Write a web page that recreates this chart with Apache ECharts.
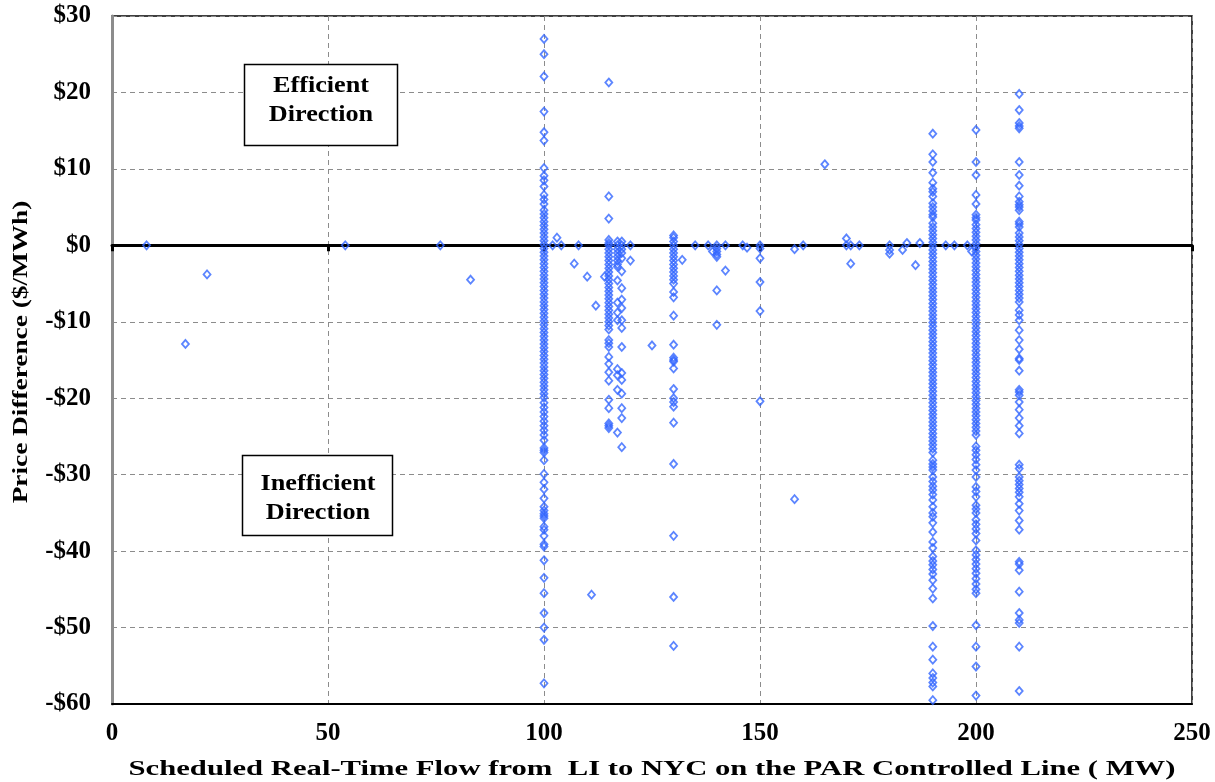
<!DOCTYPE html>
<html>
<head>
<meta charset="utf-8">
<script src="https://cdn.jsdelivr.net/npm/echarts@6/dist/echarts.min.js"></script>
<style>
    html, body { margin: 0; padding: 0; background: #fff; }
    #chart { width: 1215px; height: 782px; }
</style>
</head>
<body>
<div id="chart"></div>
<script>
// 坐标轴刻度
const xTicks = [0, 50, 100, 150, 200, 250];
const yTicks = [-60, -50, -40, -30, -20, -10, 0, 10, 20, 30];

// 每一列的潮流 (MW) 和对应的价差 ($/MWh)
const price100 = [27.0, 25.0, 22.1, 17.5, 14.8, 13.7, 10.1, 9.1, 8.5, 7.7, 6.6, 6.0, 5.4,
    4.6, 4.1, 3.6, 3.1, 2.6, 2.1, 1.6, 1.1, 0.6, 0.1, -0.4, -0.9, -1.4, -1.9, -2.4, -2.9, -3.4, -3.9,
    -4.4, -4.9, -5.4, -5.9, -6.4, -6.9, -7.4, -7.9, -8.4, -8.9, -9.4, -9.9, -10.4, -10.9, -11.4, -11.9,
    -12.4, -12.9, -13.4, -13.9, -14.4, -14.9, -15.4, -15.9, -16.4, -16.9, -17.4, -17.9, -18.4, -18.9,
    -19.4, -19.9, -20.6, -21.2, -21.8, -22.4, -23.0, -23.6, -24.2, -24.8, -25.5, -26.5, -26.8, -27.1,
    -28.1, -29.9, -31.0, -31.9, -33.1, -34.2, -34.7, -35.1, -35.4, -35.7, -36.8, -37.2, -38.0, -39.1,
    -39.4, -41.2, -43.5, -45.5, -48.1, -50.0, -51.6, -57.3];
const price115 = [21.3, 6.4, 3.5, 0.7, 0.3, 0, -0.5, -1, -1.5, -2, -2.5, -3, -3.5, -4, -4.5, -5, -5.5,
    -6, -6.5, -7, -7.5, -8, -8.5, -9, -9.5, -10, -10.5, -11, -12.4, -12.8, -13.3, -14.6, -15.5, -16.6,
    -17.7, -20.2, -21.3, -23.3, -23.6, -23.9];
const price117 = [0.5, 0, -0.5, -1, -1.5, -2, -2.5, -2.8, -4.6, -7.5, -8.8, -9.8, -16.2, -17.0, -18.9, -24.5];
const price118 = [0.5, 0, -0.5, -1, -1.7, -3.4, -5.6, -7.1, -8.2, -9.8, -10.8, -13.3, -16.7, -17.6,
    -19.4, -21.3, -22.6, -26.4];
const price130 = [1.3, 1.0, 0.5, 0, -0.5, -1, -1.5, -2, -2.5, -3, -3.5, -4, -4.5, -5, -6.1, -6.8, -9.2,
    -13.0, -14.7, -15.0, -15.2, -16.1, -18.8, -20.0, -20.5, -21.1, -23.2, -28.6, -38.0, -46.0, -52.4];
const price140 = [0, -0.4, -0.8, -1.2, -1.5, -5.9, -10.4];
const price150 = [0, -0.4, -1.7, -4.8, -8.6, -20.4];
const price190 = [14.6, 11.9, 10.9, 9.5, 8.2, 7.4, 7.0, 6.4, 5.5, 5.0, 4.5, 4.0, 3.7,
    2.9, 2.4, 1.9, 1.4, 0.9, 0.4, -0.1, -0.6, -1.1, -1.6, -2.1, -2.6, -3.1, -3.6, -4.1, -4.6, -5.1, -5.6,
    -6.1, -6.6, -7.1, -7.6, -8.1, -8.6, -9.1, -9.6, -10.1, -10.6, -11.1, -11.6, -12.1, -12.6, -13.1,
    -13.6, -14.1, -14.6, -15.1, -15.6, -16.1, -16.6, -17.1, -17.6, -18.1, -18.6, -19.1, -19.6, -20.1,
    -20.6, -21.1, -21.6, -22.1, -22.6, -23.1, -23.6, -24.1, -24.6, -25.1, -25.6, -26.1, -26.6, -27.1,
    -28.1, -28.6, -29.0, -29.4, -30.3, -30.9, -31.5, -32.0, -32.6, -33.3, -34.2, -35.0, -35.5, -36.3,
    -37.5, -38.8, -39.6, -40.7, -41.3, -41.8, -42.4, -43.0, -43.8, -44.9, -46.2, -49.8, -52.5, -54.2,
    -56.0, -56.6, -57.2, -57.7, -59.5];
const price200 = [15.1, 10.9, 9.2, 6.6, 5.4, 4.0, 3.6, 3.3,
    2.7, 2.2, 1.7, 1.2, 0.7, 0.2, -0.3, -0.8, -1.3, -1.8, -2.3, -2.8, -3.3, -3.8, -4.3, -4.8, -5.3, -5.8,
    -6.3, -6.8, -7.3, -7.8, -8.3, -8.8, -9.3, -9.8, -10.3, -10.8, -11.3, -11.8, -12.3, -12.8, -13.3,
    -13.8, -14.3, -14.8, -15.3, -15.8, -16.3, -16.8, -17.3, -17.8, -18.3, -18.8, -19.3, -19.8, -20.3,
    -20.8, -21.3, -21.8, -22.3, -22.8, -23.3, -23.8, -24.3, -24.8,
    -26.3, -26.8, -27.4, -28.0, -28.7, -29.4, -30.3, -31.6, -32.2, -32.9, -34.0, -34.5, -35.0, -35.9,
    -36.5, -37.1, -37.7, -38.6, -39.9, -40.5, -41.1, -41.7, -42.3, -42.9, -43.6, -44.3, -45.0, -45.5,
    -49.7, -52.5, -55.1, -58.9];
const price210 = [19.8, 17.7, 16.0, 15.6, 15.3, 10.9, 9.2, 7.8, 6.4, 5.7, 5.3, 5.0, 4.6, 3.1, 2.8, 2.4,
    1.6, 1.1, 0.6, 0.1, -0.4, -0.9, -1.4, -1.9, -2.4, -2.9, -3.4, -3.9, -4.4, -4.9, -5.4, -5.9, -6.4,
    -6.9, -7.4, -8.5, -9.1, -9.8, -11.1, -12.4, -13.6, -14.8, -15.0, -16.4, -18.9, -19.2, -19.6, -20.5,
    -21.5, -22.6, -23.6, -24.6, -28.7, -29.2, -30.3, -30.8, -31.3, -31.8, -32.3, -32.9, -33.8, -34.7,
    -36.0, -37.2, -41.4, -41.7, -42.5, -45.3, -48.1, -49.0, -49.4, -52.5, -58.3];

const colFlows = [100, 115, 117, 118, 130, 140, 150, 190, 200, 210];
const colPrices = [price100, price115, price117, price118, price130, price140, price150, price190, price200, price210];

// 零散的点
const otherFlow = [8, 17, 22, 54, 76, 83, 102, 103, 104, 107, 108, 110, 111, 112, 114, 120, 120, 125,
    132, 135, 138, 139, 142, 142, 146, 147, 158, 158, 160, 165, 170, 170, 171, 171, 173, 180, 180, 180,
    183, 184, 186, 187, 193, 195, 198, 199];
const otherPrice = [0, -12.9, -3.8, 0, 0, -4.5, 0, 1.0, 0, -2.4, 0, -4.1, -45.7, -7.9, -4.1, 0, -2.0, -13.1,
    -1.9, 0, 0, -0.8, 0, -3.3, 0, -0.3, -0.5, -33.2, 0, 10.6, 0.9, 0, 0, -2.4, 0, 0, -0.6, -1.1,
    -0.6, 0.3, -2.6, 0.3, 0, 0, 0, -0.8];

const points = [];
colFlows.forEach((f, i) => colPrices[i].forEach(p => points.push([f, p])));
otherFlow.forEach((f, i) => points.push([f, otherPrice[i]]));

const serif = '"Liberation Serif", "Times New Roman", serif';
const gridLine = { color: '#8c8c8c', type: [5, 4], width: 1 };

const myChart = echarts.init(document.getElementById('chart'));
const option = {
    animation: false,
    grid: { left: 112, right: 23, top: 16, bottom: 78, show: true, borderColor: '#000', borderWidth: 1.5 },
    xAxis: [{
        type: 'value', min: xTicks[0], max: xTicks[xTicks.length - 1], interval: 50,
        axisLine: { show: true, onZero: false, lineStyle: { color: '#000', width: 2 } },
        axisTick: { show: false },
        axisLabel: { color: '#000', fontFamily: serif, fontWeight: 'bold', fontSize: 25, margin: 17 },
        splitLine: { show: true, lineStyle: gridLine }
    }, {
        // 零线 (带刻度)
        type: 'value', min: xTicks[0], max: xTicks[xTicks.length - 1], interval: 50,
        position: 'bottom',
        axisLine: { show: true, onZero: true, lineStyle: { color: '#000', width: 3 } },
        axisTick: { show: true, length: 6, lineStyle: { color: '#000', width: 3 } },
        axisLabel: { show: false },
        splitLine: { show: false }
    }],
    yAxis: {
        type: 'value', min: yTicks[0], max: yTicks[yTicks.length - 1], interval: 10,
        axisLine: { show: true, onZero: false, lineStyle: { color: '#8c8c8c', width: 3 } },
        axisTick: { show: false },
        axisLabel: {
            color: '#000', fontFamily: serif, fontWeight: 'bold', fontSize: 25, margin: 21,
            formatter: v => (v < 0 ? '-$' + Math.abs(v) : '$' + v)
        },
        splitLine: { show: true, lineStyle: gridLine }
    },
    graphic: [
        // 坐标轴标题
        {
            type: 'text', x: 652, y: 770, scaleX: 1.46, z: 10,
            style: { text: 'Scheduled Real-Time Flow from  LI to NYC on the PAR Controlled Line ( MW)',
                font: 'bold 21px ' + serif, fill: '#000', align: 'center', verticalAlign: 'middle' }
        },
        {
            type: 'text', x: 22, y: 352, rotation: Math.PI / 2, scaleX: 1.3, z: 10,
            style: { text: 'Price Difference ($/MWh)', font: 'bold 21px ' + serif, fill: '#000',
                align: 'center', verticalAlign: 'middle' }
        },
        // 文字框
        {
            type: 'rect', shape: { x: 244.5, y: 64.5, width: 153, height: 81 }, z: 20,
            style: { fill: '#fff', stroke: '#000', lineWidth: 1.5 }
        },
        {
            type: 'text', x: 321, y: 101, scaleX: 1.14, z: 21,
            style: { text: 'Efficient\nDirection', font: 'bold 23px ' + serif, fill: '#000',
                align: 'center', verticalAlign: 'middle', lineHeight: 29 }
        },
        {
            type: 'rect', shape: { x: 242.5, y: 455.5, width: 150, height: 80 }, z: 20,
            style: { fill: '#fff', stroke: '#000', lineWidth: 1.5 }
        },
        {
            type: 'text', x: 318, y: 499, scaleX: 1.14, z: 21,
            style: { text: 'Inefficient\nDirection', font: 'bold 23px ' + serif, fill: '#000',
                align: 'center', verticalAlign: 'middle', lineHeight: 29 }
        }
    ],
    series: [{
        type: 'scatter',
        data: points,
        symbol: 'diamond',
        symbolSize: [7, 8],
        z: 5,
        itemStyle: { color: 'rgba(0,0,0,0)', borderColor: '#3366ff', borderWidth: 1.8 }
    }]
};
myChart.setOption(option);
</script>
</body>
</html>
